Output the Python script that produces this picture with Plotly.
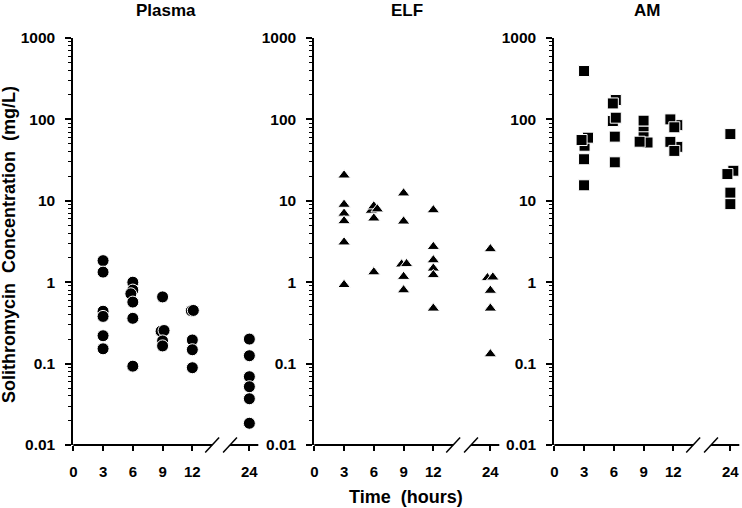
import plotly.graph_objects as go

# ---------------- data ----------------
tick_hours = [0, 3, 6, 9, 12, 24]
tick_labels = ["0", "3", "6", "9", "12", "24"]
y_tickvals = [0.01, 0.1, 1, 10, 100, 1000]
y_ticklabels = ["0.01", "0.1", "1", "10", "100", "1000"]

plasma_t = [3, 3, 3, 3, 3, 3,
            6, 6, 5.8, 6, 6, 6,
            9, 8.85, 9.15, 9, 9,
            11.9, 12.1, 12, 12, 12,
            24, 24, 24, 24, 24, 24]
plasma_c = [1.84, 1.33, 0.44, 0.38, 0.22, 0.152,
            1.0, 0.80, 0.72, 0.57, 0.36, 0.093,
            0.66, 0.25, 0.255, 0.19, 0.165,
            0.445, 0.45, 0.195, 0.148, 0.089,
            0.20, 0.125, 0.069, 0.052, 0.037, 0.0185]

elf_t = [3, 3, 3, 3, 3, 3,
         5.75, 6.0, 6.35, 6, 6,
         9, 9, 8.8, 9.3, 9, 9,
         12, 12, 12, 12, 12, 12,
         24, 23.7, 24.25, 24, 24, 24]
elf_c = [20.6, 9.0, 7.0, 5.65, 3.1, 0.93,
         7.6, 8.6, 7.9, 6.1, 1.33,
         12.4, 5.6, 1.66, 1.68, 1.17, 0.80,
         7.7, 2.73, 1.87, 1.48, 1.23, 0.477,
         2.56, 1.13, 1.15, 0.79, 0.477, 0.131]

am_t = [3, 3.4, 2.75, 3, 3,
        6.2, 5.9, 5.9, 6.2, 6.1, 6.1,
        9, 9, 9, 9.4, 8.6,
        12.4, 11.7, 12.1, 12.4, 11.7, 12.1,
        24, 24.3, 23.7, 24, 24]
am_c = [393, 59.6, 55.8, 32.4, 15.5,
        173, 157, 95.5, 105, 61.4, 29.7,
        96.4, 70.6, 60.3, 52, 53.2,
        85, 100, 80, 46, 53, 41,
        66, 23.4, 21.3, 12.6, 9.1]
am_hidden_t = [3.05]
am_hidden_c = [47.5]

panel_titles = ["Plasma", "ELF", "AM"]

# ---------------- layout geometry ----------------
W, H = 742, 508
TOP, BOT = 38, 445
X_MAX = 18.65
BREAK_POS = 17.75          # axis position used for 24 h
doms_px = [(73.3, 258.3), (314.3, 499.3), (554.3, 739.3)]
FONT = "Liberation Sans, Arial, sans-serif"


def axis_pos(h):
    return h if h < 18 else BREAK_POS + (h - 24)


def px_to_paper_x(px):
    return px / W


def px_to_paper_y(py):
    return (BOT - py) / (BOT - TOP)


fig = go.Figure()

series = [
    (plasma_t, plasma_c, "circle", 12),
    (elf_t, elf_c, "triangle-up", 11),
    (am_t, am_c, "square", 11),
]

for i, (ts, cs, sym, size) in enumerate(series):
    xa = "x" if i == 0 else f"x{i+1}"
    ya = "y" if i == 0 else f"y{i+1}"
    if i == 2:
        fig.add_trace(go.Scatter(
            x=[axis_pos(t) for t in am_hidden_t], y=am_hidden_c, mode="markers",
            marker=dict(symbol=sym, size=size, color="black",
                        line=dict(color="white", width=1)),
            xaxis=xa, yaxis=ya, showlegend=False, cliponaxis=False))
    fig.add_trace(go.Scatter(
        x=[axis_pos(t) for t in ts], y=cs, mode="markers",
        marker=dict(symbol=sym, size=size, color="black",
                    line=dict(color="white", width=1)),
        xaxis=xa, yaxis=ya, showlegend=False, cliponaxis=False))

shapes = []
annotations = []
for i, (d0, d1) in enumerate(doms_px):
    sfx = "" if i == 0 else str(i + 1)
    fig.layout[f"xaxis{sfx}"] = dict(
        domain=[d0 / W, d1 / W], range=[0, X_MAX],
        tickvals=[axis_pos(t) for t in tick_hours], ticktext=tick_labels,
        ticks="outside", ticklen=5, tickwidth=2, tickcolor="black",
        ticklabelstandoff=8,
        showline=False, showgrid=False, zeroline=False,
        tickfont=dict(family=FONT, size=15, color="black", weight="bold"),
        anchor="y" if i == 0 else f"y{i+1}", fixedrange=True)
    fig.layout[f"yaxis{sfx}"] = dict(
        type="log", range=[-2, 3], domain=[0, 1],
        tickvals=y_tickvals, ticktext=y_ticklabels,
        ticks="outside", ticklen=6, tickwidth=1.5, tickcolor="black",
        ticklabelstandoff=7,
        minor=dict(ticks="outside", ticklen=3, tickwidth=1, tickcolor="black",
                   dtick="D1", showgrid=False),
        showline=True, linewidth=2, linecolor="black",
        showgrid=False, zeroline=False,
        tickfont=dict(family=FONT, size=15.5, color="black", weight="bold"),
        anchor="x" if i == 0 else f"x{i+1}", fixedrange=True)

    def ux(u, d0=d0, d1=d1):
        return px_to_paper_x(d0 + (u / X_MAX) * (d1 - d0))

    # x axis line with break
    b1, b2 = 14.0, 15.8
    shapes.append(dict(type="line", xref="paper", yref="paper",
                       x0=ux(0), x1=ux(b1), y0=0, y1=0,
                       line=dict(color="black", width=2)))
    shapes.append(dict(type="line", xref="paper", yref="paper",
                       x0=ux(b2), x1=ux(X_MAX), y0=0, y1=0,
                       line=dict(color="black", width=2)))
    dy = 7.5 / (BOT - TOP)
    for b in (b1, b2):
        shapes.append(dict(type="line", xref="paper", yref="paper",
                           x0=ux(b - 0.7), x1=ux(b + 0.7), y0=-dy, y1=dy,
                           line=dict(color="black", width=1.5)))

    annotations.append(dict(
        text=panel_titles[i], x=(d0 + d1) / 2 / W, y=px_to_paper_y(0),
        xref="paper", yref="paper", showarrow=False,
        xanchor="center", yanchor="top", borderpad=0,
        font=dict(family=FONT, size=17, color="black", weight="bold")))

annotations.append(dict(
    text="Solithromycin\u00a0\u00a0Concentration\u00a0\u00a0(mg/L)",
    x=px_to_paper_x(9), y=px_to_paper_y(245), xref="paper", yref="paper",
    showarrow=False, textangle=-90, xanchor="center", yanchor="middle",
    font=dict(family=FONT, size=18, color="black", weight="bold")))
annotations.append(dict(
    text="Time\u00a0\u00a0(hours)",
    x=px_to_paper_x(406), y=px_to_paper_y(497), xref="paper", yref="paper",
    showarrow=False, xanchor="center", yanchor="middle",
    font=dict(family=FONT, size=18, color="black", weight="bold")))

fig.update_layout(
    width=W, height=H,
    margin=dict(l=0, r=0, t=TOP, b=H - BOT, autoexpand=False),
    paper_bgcolor="white", plot_bgcolor="white",
    shapes=shapes, annotations=annotations,
    font=dict(family=FONT, color="black"),
)

fig.write_html(
    "out.html", config={"displayModeBar": False},
    post_script="document.body.style.margin='0';document.body.style.padding='0';"
                "document.documentElement.style.overflow='hidden';")
